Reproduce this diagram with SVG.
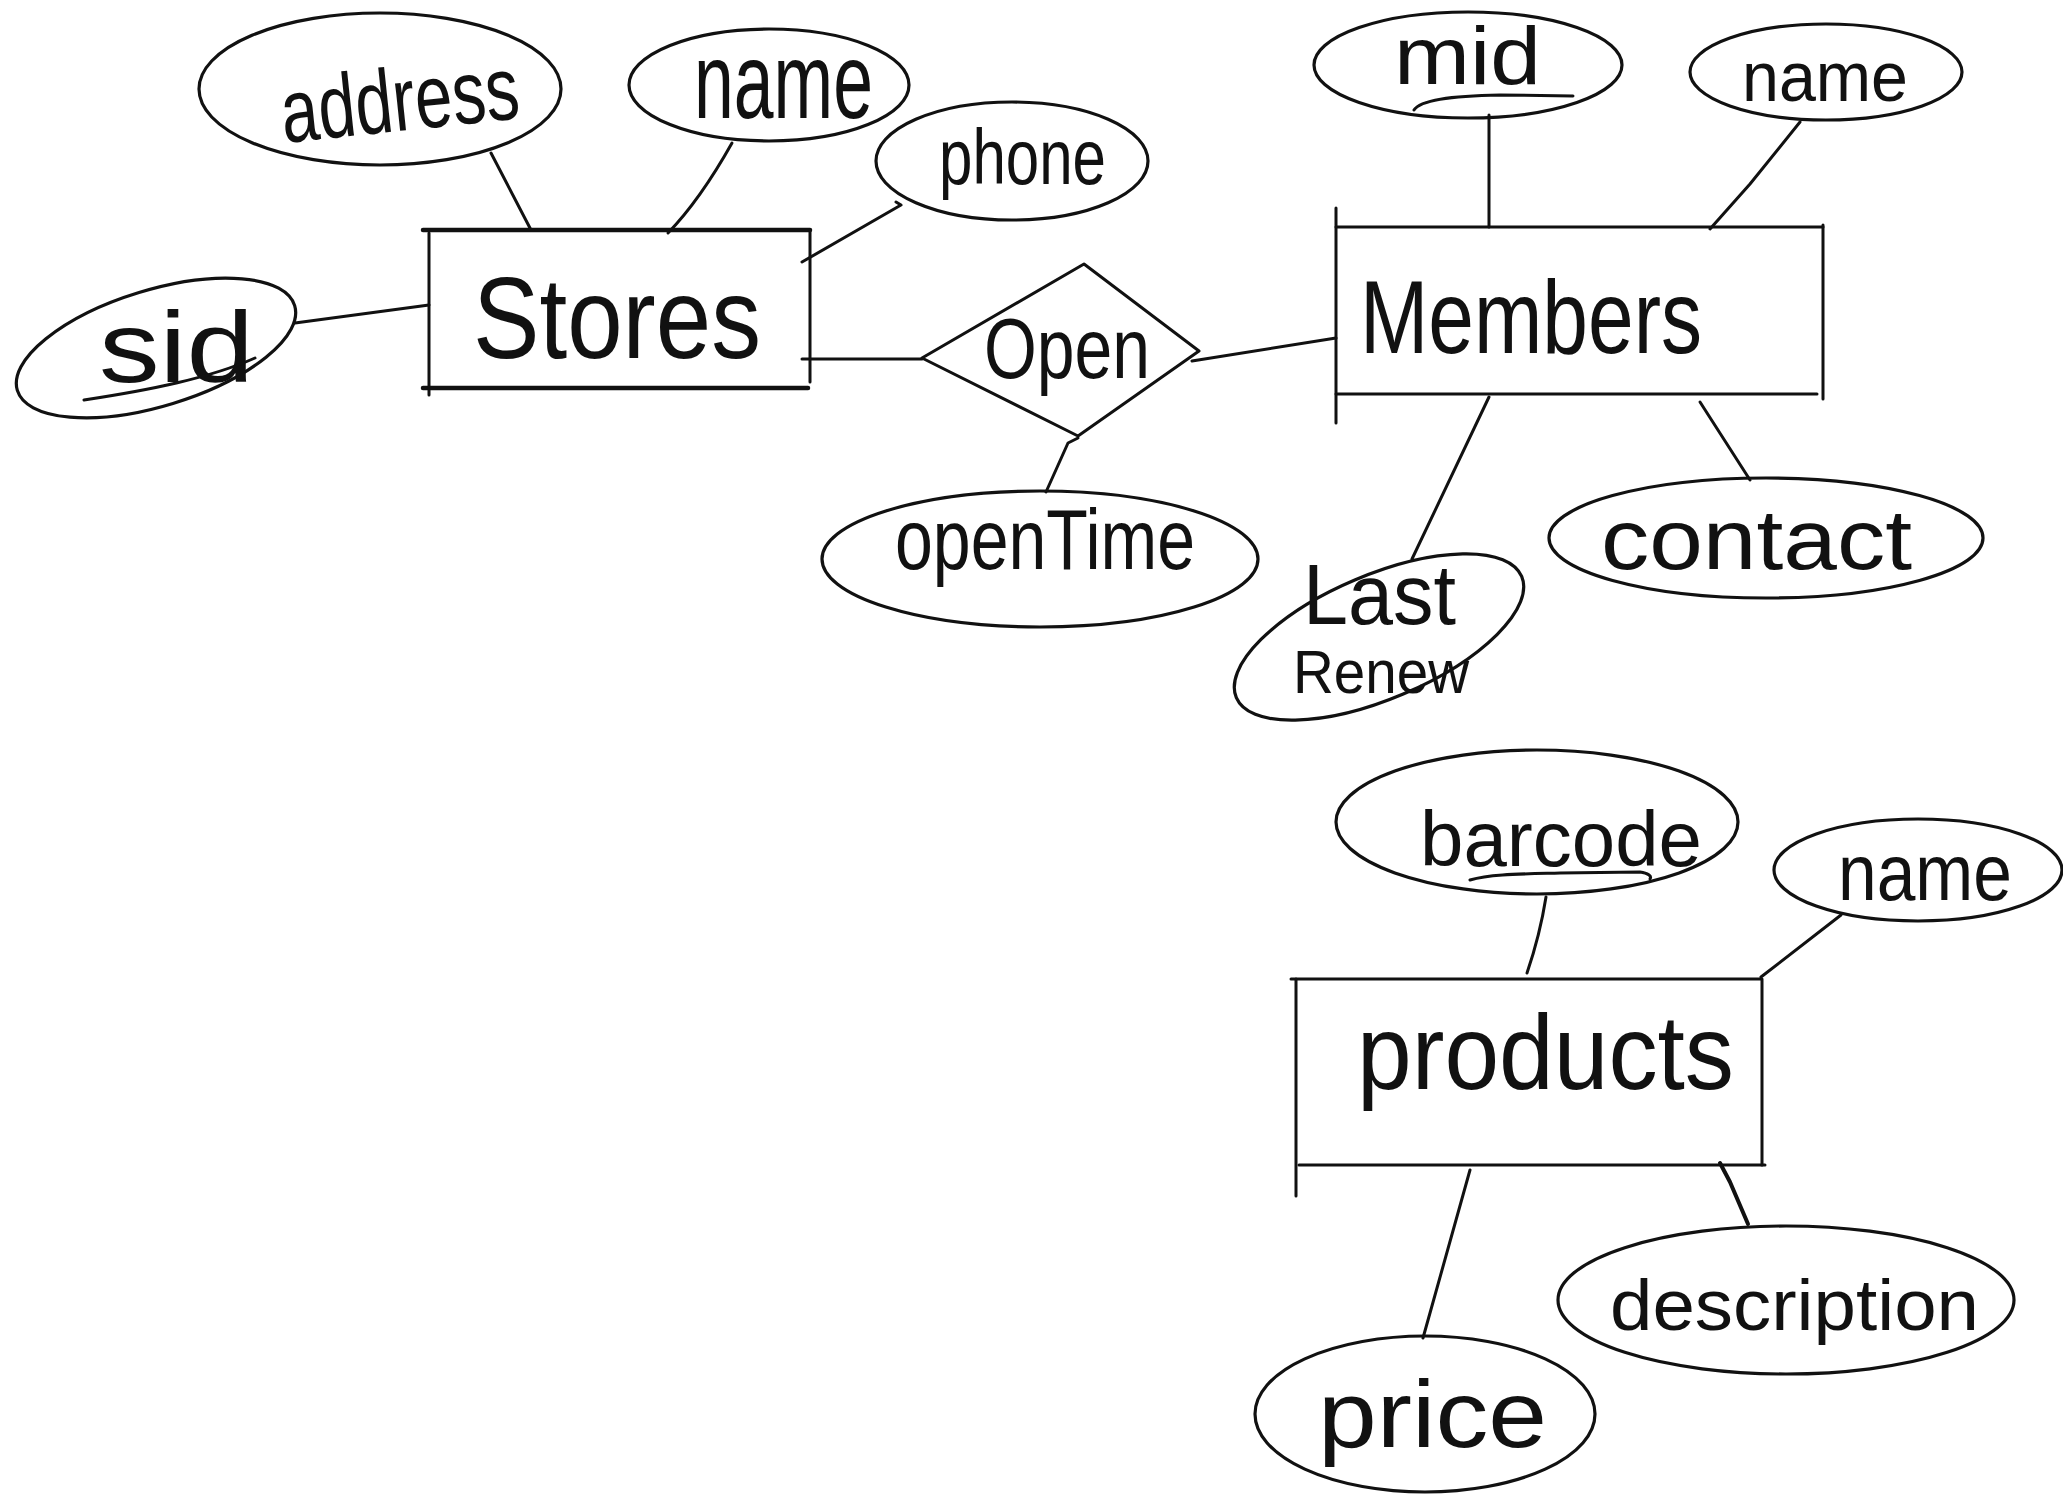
<svg xmlns="http://www.w3.org/2000/svg" width="2063" height="1494" viewBox="0 0 2063 1494">
  <style>
    .ln { stroke: #111; stroke-width: 3; fill: none; stroke-linecap: round; stroke-linejoin: round; }
    .edge { stroke: #111; stroke-width: 4.5; fill: none; stroke-linecap: round; }
    .attr { stroke: #111; stroke-width: 3.2; fill: none; }
    .lbl { font-family: "Liberation Sans", "DejaVu Sans", sans-serif; fill: #111; }
  </style>
  <rect width="2063" height="1494" fill="#ffffff"/>

  <!-- relationship lines -->
  <g id="connectors">
    <path class="ln" d="M491,153 L531,230"/>
    <path class="ln" d="M732,143 Q700,200 668,233"/>
    <path class="ln" d="M901,205 L896,202 M901,205 L802,262"/>
    <path class="ln" d="M295,323 L429,305"/>
    <path class="ln" d="M802,359 L922,359"/>
    <path class="ln" d="M1192,361 L1336,338"/>
    <path class="ln" d="M1078,438 L1068,443 L1046,492"/>
    <path class="ln" d="M1489,115 L1489,227"/>
    <path class="ln" d="M1800,122 L1750,184 L1710,229"/>
    <path class="ln" d="M1489,397 L1412,559"/>
    <path class="ln" d="M1700,402 L1750,480"/>
    <path class="ln" d="M1546,897 Q1540,935 1527,973"/>
    <path class="ln" d="M1841,915 L1761,977"/>
    <path class="ln" d="M1470,1170 L1423,1338"/>
    <path class="ln" d="M1720,1163 L1730,1182 L1748,1224" style="stroke-width:4"/>
  </g>

  <!-- Stores entity -->
  <g id="stores">
    <path class="edge" d="M423,230 L810,230"/>
    <path class="edge" d="M423,388 L808,388"/>
    <path class="ln" d="M429,233 L429,395"/>
    <path class="ln" d="M810,230 L810,382"/>
    <text class="lbl" x="473" y="358" font-size="115" textLength="288" lengthAdjust="spacingAndGlyphs">Stores</text>
  </g>

  <g id="stores-address">
    <ellipse class="attr" cx="380" cy="89" rx="181" ry="76"/>
    <text class="lbl" x="284" y="143" font-size="90" textLength="239" lengthAdjust="spacingAndGlyphs" transform="rotate(-6 284 143)">address</text>
  </g>
  <g id="stores-name">
    <ellipse class="attr" cx="769" cy="85" rx="140" ry="56"/>
    <text class="lbl" x="694" y="118" font-size="108" textLength="179" lengthAdjust="spacingAndGlyphs">name</text>
  </g>
  <g id="stores-phone">
    <ellipse class="attr" cx="1012" cy="161" rx="136" ry="59"/>
    <text class="lbl" x="939" y="184" font-size="78" textLength="167" lengthAdjust="spacingAndGlyphs">phone</text>
  </g>
  <g id="stores-sid">
    <ellipse class="attr" cx="156" cy="348" rx="145" ry="58" transform="rotate(-17 156 348)"/>
    <text class="lbl" x="99" y="382" font-size="100" textLength="155" lengthAdjust="spacingAndGlyphs">sid</text>
    <path class="ln" d="M84,400 C150,390 210,378 255,358"/>
  </g>

  <!-- Open relationship -->
  <g id="open">
    <path class="ln" d="M922,358 L1084,264 L1199,351 L1078,436 Z"/>
    <text class="lbl" x="984" y="378" font-size="86" textLength="166" lengthAdjust="spacingAndGlyphs">Open</text>
  </g>
  <g id="open-opentime">
    <ellipse class="attr" cx="1040" cy="559" rx="218" ry="68"/>
    <text class="lbl" x="895" y="569" font-size="86" textLength="300" lengthAdjust="spacingAndGlyphs">openTime</text>
  </g>

  <!-- Members entity -->
  <g id="members">
    <path class="ln" d="M1336,227 L1823,227"/>
    <path class="ln" d="M1336,394 L1817,394"/>
    <path class="ln" d="M1336,208 L1336,423"/>
    <path class="ln" d="M1823,225 L1823,399"/>
    <text class="lbl" x="1360" y="353" font-size="104" textLength="342" lengthAdjust="spacingAndGlyphs">Members</text>
  </g>
  <g id="members-mid">
    <ellipse class="attr" cx="1468" cy="65" rx="154" ry="53"/>
    <text class="lbl" x="1394" y="84" font-size="82" textLength="147" lengthAdjust="spacingAndGlyphs">mid</text>
    <path class="ln" d="M1414,110 C1420,100 1450,96 1500,95 L1573,96"/>
  </g>
  <g id="members-name">
    <ellipse class="attr" cx="1826" cy="72" rx="136" ry="48"/>
    <text class="lbl" x="1742" y="101" font-size="70" textLength="166" lengthAdjust="spacingAndGlyphs">name</text>
  </g>
  <g id="members-lastrenew">
    <ellipse class="attr" cx="1379" cy="637" rx="155" ry="62" transform="rotate(-23 1379 637)"/>
    <text class="lbl" x="1303" y="624" font-size="85" textLength="153" lengthAdjust="spacingAndGlyphs">Last</text>
    <text class="lbl" x="1293" y="693" font-size="62" textLength="176" lengthAdjust="spacingAndGlyphs">Renew</text>
  </g>
  <g id="members-contact">
    <ellipse class="attr" cx="1766" cy="538" rx="217" ry="60"/>
    <text class="lbl" x="1601" y="569" font-size="85" textLength="311" lengthAdjust="spacingAndGlyphs">contact</text>
  </g>

  <!-- products entity -->
  <g id="products">
    <path class="ln" d="M1291,979 L1761,979"/>
    <path class="ln" d="M1299,1165 L1765,1165"/>
    <path class="ln" d="M1296,979 L1296,1196"/>
    <path class="ln" d="M1762,979 L1762,1165"/>
    <text class="lbl" x="1357" y="1089" font-size="105" textLength="377" lengthAdjust="spacingAndGlyphs">products</text>
  </g>
  <g id="products-barcode">
    <ellipse class="attr" cx="1537" cy="822" rx="201" ry="72"/>
    <text class="lbl" x="1420" y="866" font-size="78" textLength="282" lengthAdjust="spacingAndGlyphs">barcode</text>
    <path class="ln" d="M1470,880 C1490,874 1520,874 1560,873 L1640,872 C1648,873 1652,876 1650,879"/>
  </g>
  <g id="products-name">
    <ellipse class="attr" cx="1918" cy="870" rx="144" ry="51"/>
    <text class="lbl" x="1838" y="900" font-size="80" textLength="174" lengthAdjust="spacingAndGlyphs">name</text>
  </g>
  <g id="products-description">
    <ellipse class="attr" cx="1786" cy="1300" rx="228" ry="74"/>
    <text class="lbl" x="1610" y="1330" font-size="72" textLength="369" lengthAdjust="spacingAndGlyphs">description</text>
  </g>
  <g id="products-price">
    <ellipse class="attr" cx="1425" cy="1414" rx="170" ry="78"/>
    <text class="lbl" x="1318" y="1447" font-size="95" textLength="229" lengthAdjust="spacingAndGlyphs">price</text>
  </g>
</svg>
